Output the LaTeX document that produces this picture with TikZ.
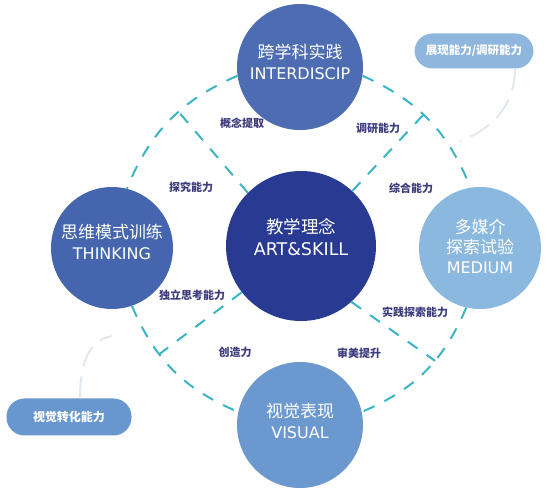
\documentclass[tikz,border=0pt]{standalone}
\usepackage{fontspec}
\setmainfont{Noto Sans CJK SC}
\newfontfamily\enfont{DejaVu Sans}
\usetikzlibrary{positioning}
\definecolor{crossFill}{RGB}{77,108,178}
\definecolor{thinkFill}{RGB}{69,102,174}
\definecolor{hubFill}{RGB}{40,58,146}
\definecolor{mediaFill}{RGB}{139,184,222}
\definecolor{visFill}{RGB}{107,152,207}
\definecolor{pillA}{RGB}{143,182,220}
\definecolor{pillB}{RGB}{104,150,207}
\definecolor{dashLine}{RGB}{60,180,198}
\definecolor{lblText}{RGB}{61,58,125}
\definecolor{faintLine}{RGB}{225,232,238}
\newcommand{\en}[1]{{\enfont\fontsize{16}{21}\selectfont #1}}

\begin{document}
\begin{tikzpicture}[x=1pt,y=-1pt,
  ball/.style={circle,inner sep=0pt},
  ballTxt/.style={inner sep=0pt,text=white,align=center,font=\fontsize{17}{21}\selectfont},
  pill/.style={rounded corners=18pt,inner sep=0pt,text=white,font=\fontsize{11.5}{13}\selectfont\bfseries},
  lbl/.style={text=lblText,font=\fontsize{11}{12}\selectfont\bfseries},
  link/.style={dashLine,line width=2pt,dash pattern=on 12pt off 11pt},
  faint/.style={faintLine,line width=2pt,dash pattern=on 22pt off 10pt}]
\useasboundingbox (0,0) rectangle (547,489);

% circles
\node[ball,fill=crossFill,minimum size=126pt,
  label={[ballTxt,yshift=5pt]center:跨学科实践\\\en{INTERDISCIP}}] (cross) at (300,67) {};
\node[ball,fill=thinkFill,minimum size=122pt,
  label={[ballTxt,yshift=6pt]center:思维模式训练\\\en{THINKING}}] (think) at (112,248) {};
\node[ball,fill=hubFill,minimum size=150pt,
  label={[ballTxt,yshift=9pt,font=\fontsize{17.5}{22}\selectfont]center:教学理念\\{\enfont\fontsize{17.5}{22}\selectfont ART\&SKILL}}] (hub) at (301,246) {};
\node[ball,fill=mediaFill,minimum size=122pt,
  label={[ballTxt,yshift=2pt,font=\fontsize{17}{20}\selectfont]center:多媒介\\探索试验\\\en{MEDIUM}}] (media) at (480,248) {};
\node[ball,fill=visFill,minimum size=126pt,
  label={[ballTxt,yshift=4pt]center:视觉表现\\\en{VISUAL}}] (vis) at (300,425) {};

% side pills
\node[pill,fill=pillA,minimum width=119pt,minimum height=35pt] (show) at (474,51) {展现能力/调研能力};
\node[pill,fill=pillB,minimum width=125pt,minimum height=37pt,font=\fontsize{12}{14}\selectfont\bfseries] (trans) at (69,417) {视觉转化能力};

% labels
\node[lbl] (l1) at (242,123) {概念提取};
\node[lbl] (l2) at (378,128) {调研能力};
\node[lbl] (l3) at (191,187) {探究能力};
\node[lbl] (l4) at (411,188) {综合能力};
\node[lbl] (l5) at (192,295) {独立思考能力};
\node[lbl] (l6) at (415,312) {实践探索能力};
\node[lbl] (l7) at (235,352) {创造力};
\node[lbl] (l8) at (359,353) {审美提升};

% dashed ring
\draw[link] (cross.188) to[bend right=22] coordinate[pos=0.42] (jUL) (think.76);
\draw[link] (cross.352) to[bend left=22] coordinate[pos=0.45] (jUR) (media.99);
\draw[link] (think.289) to[bend right=22] coordinate[pos=0.35] (jLL) (vis.168);
\draw[link] (media.257) to[bend left=22] coordinate[pos=0.4] (jLR) (vis.12);
\draw[link] (hub.135) -- (jUL);
\draw[link] (hub.47) -- (jUR);
\draw[link] (hub.218) -- (jLL);
\draw[link] (hub.312) -- (jLR);

% faint tails
\coordinate (tailA) at (460,141);
\coordinate (tailB) at (112,336);
\draw[faint] ([xshift=41pt]show.south) to[out=-90,in=20] (tailA);
\draw[faint] ([xshift=11pt]trans.north) to[out=90,in=190] (tailB);
\end{tikzpicture}
\end{document}
